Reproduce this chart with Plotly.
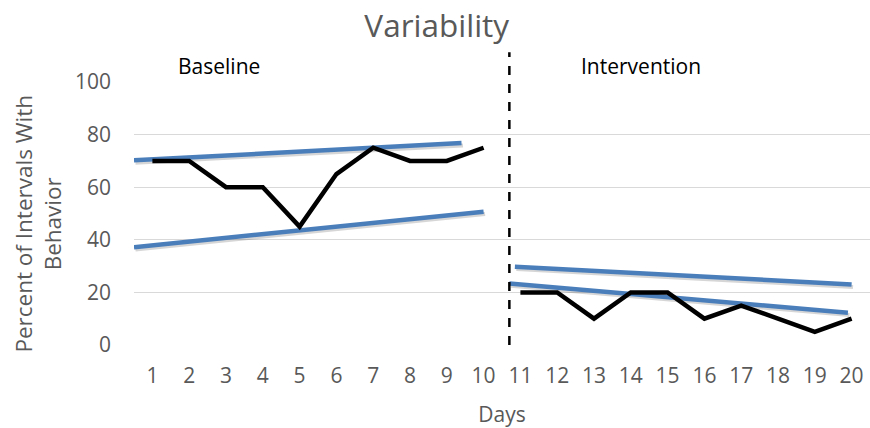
import plotly.graph_objects as go

days_baseline = [1, 2, 3, 4, 5, 6, 7, 8, 9, 10]
pct_baseline = [70, 70, 60, 60, 45, 65, 75, 70, 70, 75]
days_intervention = [11, 12, 13, 14, 15, 16, 17, 18, 19, 20]
pct_intervention = [20, 20, 10, 20, 20, 10, 15, 10, 5, 10]

# trend/variability envelope lines (start, end)
base_upper_x = [0.5, 9.4]
base_upper_y = [70.2, 76.8]
base_lower_x = [0.5, 10.0]
base_lower_y = [37.2, 50.7]
int_upper_x = [10.85, 20.0]
int_upper_y = [29.8, 23.0]
int_lower_x = [10.7, 19.9]
int_lower_y = [23.4, 12.3]

phase_change_x = 10.7
y_ticks = [0, 20, 40, 60, 80, 100]
x_ticks = list(range(1, 21))

BLUE = "#4a7ebb"
GREY = "#595959"
FONT = "Open Sans"

fig = go.Figure()

envelopes = [(base_upper_x, base_upper_y), (base_lower_x, base_lower_y),
             (int_upper_x, int_upper_y), (int_lower_x, int_lower_y)]
# soft shadow
for xs, ys in envelopes:
    fig.add_trace(go.Scatter(x=[v + 0.04 for v in xs], y=[v - 0.9 for v in ys],
                             mode="lines", line=dict(color="rgba(0,0,0,0.16)", width=4),
                             hoverinfo="skip", showlegend=False))
for xs, ys in envelopes:
    fig.add_trace(go.Scatter(x=xs, y=ys, mode="lines",
                             line=dict(color=BLUE, width=4.5), showlegend=False))

fig.add_trace(go.Scatter(x=days_baseline, y=pct_baseline, mode="lines",
                         line=dict(color="black", width=4.5), showlegend=False))
fig.add_trace(go.Scatter(x=days_intervention, y=pct_intervention, mode="lines",
                         line=dict(color="black", width=4.5), showlegend=False))

fig.add_shape(type="line", xref="x", yref="paper", x0=phase_change_x, x1=phase_change_x,
              y0=0, y1=1.113, line=dict(color="black", width=2.5, dash="dash"))

fig.add_annotation(text="Baseline", xref="paper", yref="paper", x=0.116, y=1.06,
                   xanchor="center", yanchor="middle",
                   showarrow=False, font=dict(family=FONT, size=21, color="black"))
fig.add_annotation(text="Intervention", xref="paper", yref="paper", x=0.689, y=1.06,
                   xanchor="center", yanchor="middle",
                   showarrow=False, font=dict(family=FONT, size=21, color="black"))
# y-axis title
fig.add_annotation(text="Percent of Intervals With<br>Behavior", xref="paper", yref="paper",
                   x=-0.131, y=0.46, xanchor="center", yanchor="middle", textangle=-90,
                   showarrow=False, font=dict(family=FONT, size=22.5, color=GREY))

fig.update_layout(
    width=870, height=428,
    margin=dict(l=134, r=0, t=82, b=83),
    paper_bgcolor="white", plot_bgcolor="white",
    title=dict(text="Variability", x=0.502, xanchor="center", y=0.94, yanchor="middle",
               font=dict(family=FONT, size=31.5, color=GREY)),
    font=dict(family=FONT, color=GREY),
    xaxis=dict(range=[0.5, 20.5], tickvals=x_ticks, ticktext=[str(v) for v in x_ticks],
               showgrid=False, zeroline=False, showline=False,
               tickfont=dict(family=FONT, size=21, color=GREY), ticklabelstandoff=16,
               title=dict(text="Days", font=dict(family=FONT, size=21, color=GREY), standoff=20)),
    yaxis=dict(range=[0, 100], tickvals=y_ticks, showgrid=True, gridcolor="#d9d9d9",
               gridwidth=1, zeroline=False, showline=False,
               tickfont=dict(family=FONT, size=21, color=GREY), ticklabelstandoff=22),
)

fig.write_html("out.html")
